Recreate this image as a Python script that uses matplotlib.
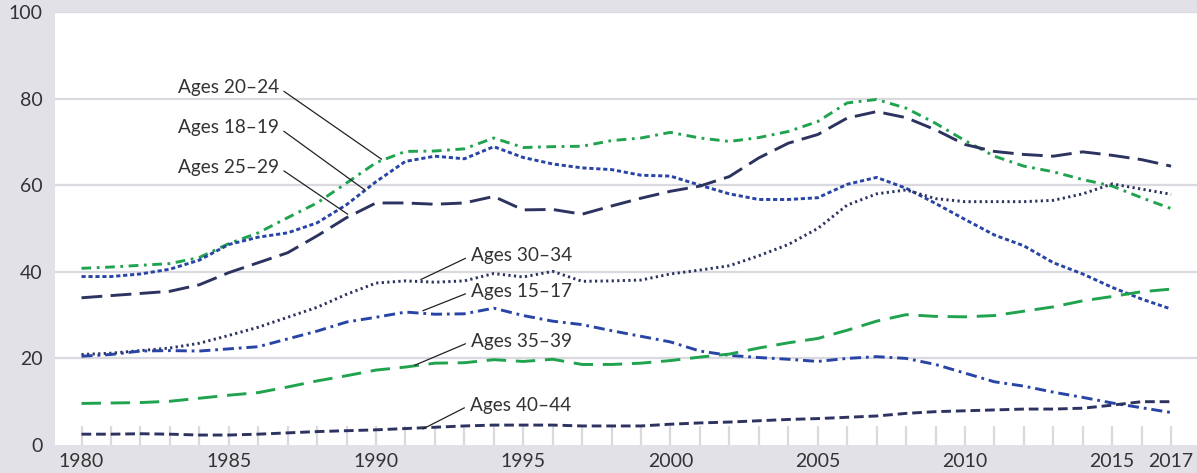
import matplotlib.pyplot as plt

plt.rcParams['font.family'] = ['Lato', 'DejaVu Sans']
plt.rcParams['lines.scale_dashes'] = False

years = list(range(1980, 2018))

ages_15_17 = [20.5, 20.9, 21.7, 21.8, 21.7, 22.2, 22.7, 24.5, 26.3, 28.4,
              29.5, 30.7, 30.2, 30.3, 31.6, 29.9, 28.6, 27.8, 26.4, 25.1,
              23.8, 21.7, 20.7, 20.2, 19.8, 19.3, 20.0, 20.4, 20.0, 18.6,
              16.6, 14.6, 13.6, 12.2, 11.0, 9.7, 8.6, 7.5]
ages_18_19 = [38.9, 38.9, 39.5, 40.6, 42.7, 46.3, 48.0, 49.0, 51.3, 55.5,
              60.8, 65.5, 66.7, 66.1, 68.9, 66.4, 64.9, 64.0, 63.6, 62.3,
              62.1, 60.0, 58.0, 56.7, 56.7, 57.1, 60.2, 61.8, 59.3, 55.8,
              52.1, 48.5, 46.0, 42.1, 39.5, 36.4, 33.7, 31.4]
ages_20_24 = [40.8, 41.1, 41.5, 41.9, 43.3, 46.5, 49.0, 52.5, 55.9, 60.5,
              65.2, 67.8, 67.9, 68.4, 70.9, 68.7, 68.9, 69.0, 70.3, 70.9,
              72.2, 70.9, 70.1, 71.0, 72.4, 74.7, 79.0, 79.8, 77.8, 74.3,
              70.3, 66.7, 64.4, 63.1, 61.3, 59.8, 57.1, 54.6]
ages_25_29 = [34.0, 34.5, 35.0, 35.5, 37.0, 39.8, 42.1, 44.4, 48.3, 52.5,
              55.9, 55.9, 55.6, 55.9, 57.4, 54.3, 54.4, 53.3, 55.2, 57.0,
              58.6, 59.8, 62.0, 66.3, 69.7, 71.7, 75.5, 77.0, 75.6, 72.8,
              69.4, 67.8, 67.1, 66.7, 67.7, 66.9, 65.9, 64.4]
ages_30_34 = [20.9, 21.2, 21.8, 22.4, 23.5, 25.3, 27.2, 29.5, 31.8, 34.8,
              37.4, 37.9, 37.6, 37.9, 39.6, 38.8, 40.1, 37.8, 37.9, 38.1,
              39.5, 40.4, 41.4, 43.7, 46.3, 50.0, 55.4, 58.0, 58.9, 56.9,
              56.2, 56.2, 56.2, 56.5, 58.0, 60.3, 59.1, 57.9]
ages_35_39 = [9.6, 9.7, 9.8, 10.1, 10.8, 11.5, 12.1, 13.4, 14.8, 16.0,
              17.3, 18.0, 18.9, 19.0, 19.7, 19.3, 19.8, 18.6, 18.6, 18.9,
              19.5, 20.3, 21.0, 22.4, 23.6, 24.6, 26.5, 28.6, 30.1, 29.7,
              29.6, 29.9, 30.9, 31.9, 33.3, 34.3, 35.4, 36.0]
ages_40_44 = [2.5, 2.5, 2.6, 2.5, 2.3, 2.3, 2.5, 2.8, 3.1, 3.3,
              3.5, 3.8, 4.1, 4.4, 4.6, 4.6, 4.6, 4.4, 4.4, 4.4,
              4.8, 5.1, 5.3, 5.6, 5.9, 6.1, 6.4, 6.7, 7.3, 7.7,
              7.9, 8.1, 8.3, 8.3, 8.5, 9.2, 10.0, 10.0]

xtick_years = [1980, 1985, 1990, 1995, 2000, 2005, 2010, 2015, 2017]
yticks = [0, 20, 40, 60, 80, 100]

navy = '#2d3360'
blue = '#2844a5'
green = '#20a34e'
bg = '#e2e1e7'
grid = '#dad9df'

# label, values, color, dash pattern (points), label anchor, line target, side
series = [
    ('Ages 20–24', ages_20_24, green, (7, 4, 2, 4), (1986.7, 82.5), (1990.19, 66.0), 'right'),
    ('Ages 18–19', ages_18_19, blue, (3, 2), (1986.7, 73.3), (1989.62, 58.9), 'right'),
    ('Ages 25–29', ages_25_29, navy, (15, 6), (1986.7, 64.1), (1989.04, 53.3), 'right'),
    ('Ages 30–34', ages_30_34, navy, (1.6, 2.4), (1993.22, 43.7), (1991.52, 38.2), 'left'),
    ('Ages 15–17', ages_15_17, blue, (8, 3.5, 2, 3.5), (1993.22, 35.4), (1991.59, 31.0), 'left'),
    ('Ages 35–39', ages_35_39, green, (14, 7), (1993.22, 23.9), (1991.31, 18.4), 'left'),
    ('Ages 40–44', ages_40_44, navy, (7, 3.5), (1993.18, 9.2), (1991.59, 3.7), 'left'),
]

fig = plt.figure(figsize=(11.97, 4.73), dpi=100)
fig.patch.set_facecolor(bg)
ax = fig.add_axes([55 / 1197, 28 / 473, 1 - 55 / 1197, 433 / 473])
ax.set_facecolor('white')

ax.set_xlim(1979.1, 2017.88)
ax.set_ylim(0, 99.5)

for y in yticks[1:]:
    ax.axhline(y, color=grid, lw=1.6, zorder=1)
ax.vlines(years, 0, 4.4, color=grid, lw=1.6, zorder=1)

for label, vals, color, dashes, txt, tgt, side in series:
    ax.plot(years, vals, color=color, lw=2.1, dashes=dashes, zorder=3)
    ax.annotate(label, xy=tgt, xytext=txt, ha=side, va='center',
                fontsize=13.7, color='#333333',
                arrowprops=dict(arrowstyle='-', color='#222222', lw=0.9,
                                shrinkA=2, shrinkB=0,
                                relpos=(1, 0.5) if side == 'right' else (0, 0.5)),
                zorder=4)

for s in ax.spines.values():
    s.set_visible(False)

ax.set_xticks(xtick_years)
ax.set_yticks(yticks)
ax.tick_params(length=0, labelsize=14, labelcolor='#333333')
ax.tick_params(axis='y', pad=9)
ax.tick_params(axis='x', pad=6)

fig.savefig('out.png', dpi=100, facecolor=bg)
